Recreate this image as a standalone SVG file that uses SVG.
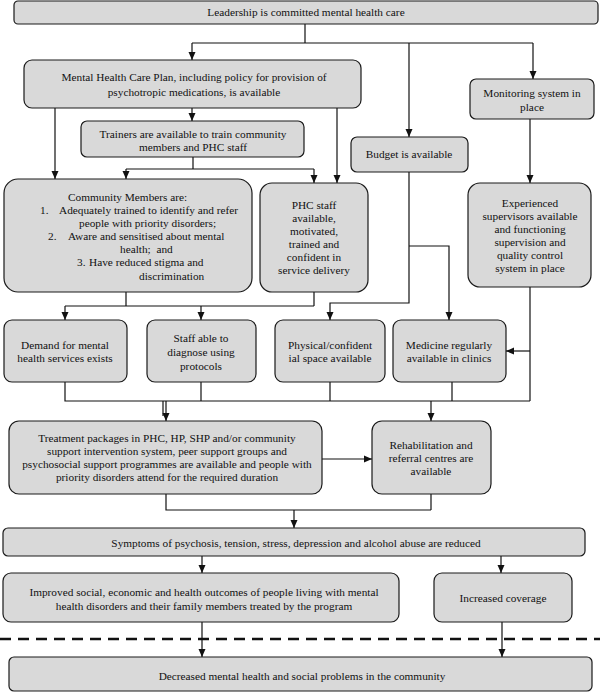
<svg xmlns="http://www.w3.org/2000/svg" width="600" height="693" viewBox="0 0 600 693">
<style>
.box{fill:#d9d9d9;stroke:#1a1a1a;stroke-width:1.2}
text{font-family:"Liberation Serif","Times New Roman",serif;font-size:11.3px;fill:#111}
.c{text-anchor:middle}
.ln{fill:none;stroke:#111;stroke-width:1.2}
.dash{fill:none;stroke:#111;stroke-width:2.5;stroke-dasharray:11 7}
</style>
<defs>
<marker id="ah" markerUnits="userSpaceOnUse" markerWidth="8" markerHeight="8" viewBox="0 0 8 8" refX="8" refY="4" orient="auto">
<path d="M0,0.5 L8,4 L0,7.5 Z" fill="#111"/>
</marker>
</defs>
<rect width="600" height="693" fill="#fff"/>
<g id="connectors">
<path class="ln" d="M305,24 V43 M192,43 H533"/>
<path class="ln" d="M192,43 V60" marker-end="url(#ah)"/>
<path class="ln" d="M409,43 V137" marker-end="url(#ah)"/>
<path class="ln" d="M533,43 V79" marker-end="url(#ah)"/>
<path class="ln" d="M192,108 V121" marker-end="url(#ah)"/>
<path class="ln" d="M55,108 V179" marker-end="url(#ah)"/>
<path class="ln" d="M337,108 V183" marker-end="url(#ah)"/>
<path class="ln" d="M193,157 V169 M126,169 H314"/>
<path class="ln" d="M126,169 V179" marker-end="url(#ah)"/>
<path class="ln" d="M314,169 V183" marker-end="url(#ah)"/>
<path class="ln" d="M530,119 V183" marker-end="url(#ah)"/>
<path class="ln" d="M126,292 V306 M65,306 H314 M314,292 V306"/>
<path class="ln" d="M65,306 V320" marker-end="url(#ah)"/>
<path class="ln" d="M201,306 V320" marker-end="url(#ah)"/>
<path class="ln" d="M409,172 V303 H330 V320" marker-end="url(#ah)"/>
<path class="ln" d="M409,246 H449 V320" marker-end="url(#ah)"/>
<path class="ln" d="M530,287 V401"/>
<path class="ln" d="M530,351 H506" marker-end="url(#ah)"/>
<path class="ln" d="M65,382 V401 H530 M201,382 V401 M330,382 V401 M452,382 V401"/>
<path class="ln" d="M163,401 V416"/>
<path class="ln" d="M166,401 V421" marker-end="url(#ah)"/>
<path class="ln" d="M431,401 V421" marker-end="url(#ah)"/>
<path class="ln" d="M322,459 H372" marker-end="url(#ah)"/>
<path class="ln" d="M166,494 V510 H431 M431,494 V510"/>
<path class="ln" d="M294,510 V528" marker-end="url(#ah)"/>
<path class="ln" d="M202,556 V573" marker-end="url(#ah)"/>
<path class="ln" d="M501,556 V573" marker-end="url(#ah)"/>
<path class="ln" d="M202,622 V657" marker-end="url(#ah)"/>
<path class="ln" d="M502,622 V657" marker-end="url(#ah)"/>
</g>
<path class="dash" d="M0,639 H600"/>
<g id="leadership"><rect class="box" x="14" y="1" width="584" height="23" rx="4"/><text class="c" x="306" y="16">Leadership is committed mental health care</text></g>
<g id="mhcp"><rect class="box" x="24" y="60" width="337" height="48" rx="8"/><text class="c" x="194" y="81">Mental Health Care Plan, including policy for provision of</text><text class="c" x="194" y="96">psychotropic medications, is available</text></g>
<g id="monitoring"><rect class="box" x="470" y="79" width="124" height="40" rx="6"/><text class="c" x="532" y="97">Monitoring system in</text><text class="c" x="532" y="111">place</text></g>
<g id="trainers"><rect class="box" x="81" y="121" width="223" height="36" rx="6"/><text class="c" x="193" y="138">Trainers are available to train community</text><text class="c" x="193" y="151">members and PHC staff</text></g>
<g id="budget"><rect class="box" x="351" y="137" width="117" height="35" rx="6"/><text class="c" x="409" y="158">Budget is available</text></g>
<g id="community"><rect class="box" x="4" y="179" width="248" height="113" rx="14"/>
<text x="68" y="201">Community Members are:</text>
<text x="40" y="214">1.</text><text x="59" y="214">Adequately trained to identify and refer</text>
<text x="79" y="227">people with priority disorders;</text>
<text x="48" y="240">2.</text><text x="68" y="240">Aware and sensitised about mental</text>
<text x="120" y="253" xml:space="preserve">health;  and</text>
<text x="77" y="266">3.</text><text x="89" y="266">Have reduced stigma and</text>
<text x="139" y="280">discrimination</text></g>
<g id="phcstaff"><rect class="box" x="260" y="183" width="108" height="109" rx="12"/><text class="c" x="314" y="209">PHC staff</text><text class="c" x="314" y="222">available,</text><text class="c" x="314" y="235">motivated,</text><text class="c" x="314" y="248">trained and</text><text class="c" x="314" y="261">confident in</text><text class="c" x="314" y="274">service delivery</text></g>
<g id="supervisors"><rect class="box" x="468" y="183" width="123" height="104" rx="12"/><text class="c" x="530" y="207">Experienced</text><text class="c" x="530" y="220">supervisors available</text><text class="c" x="530" y="233">and functioning</text><text class="c" x="530" y="246">supervision and</text><text class="c" x="530" y="259">quality control</text><text class="c" x="530" y="272">system in place</text></g>
<g id="demand"><rect class="box" x="4" y="320" width="123" height="62" rx="8"/><text class="c" x="65" y="349">Demand for mental</text><text class="c" x="65" y="362">health services exists</text></g>
<g id="staffable"><rect class="box" x="147" y="320" width="109" height="62" rx="8"/><text class="c" x="201" y="342">Staff able to</text><text class="c" x="201" y="356">diagnose using</text><text class="c" x="201" y="370">protocols</text></g>
<g id="space"><rect class="box" x="275" y="320" width="110" height="62" rx="8"/><text class="c" x="330" y="349">Physical/confident</text><text class="c" x="330" y="362">ial space available</text></g>
<g id="medicine"><rect class="box" x="393" y="320" width="113" height="62" rx="8"/><text class="c" x="449" y="349">Medicine regularly</text><text class="c" x="449" y="362">available in clinics</text></g>
<g id="treatment"><rect class="box" x="9" y="421" width="313" height="73" rx="10"/><text class="c" x="167" y="442">Treatment packages in PHC, HP, SHP and/or community</text><text class="c" x="167" y="455">support intervention system, peer support groups and</text><text class="c" x="167" y="468">psychosocial support programmes are available and people with</text><text class="c" x="167" y="481">priority disorders attend for the required duration</text></g>
<g id="rehab"><rect class="box" x="372" y="421" width="119" height="73" rx="10"/><text class="c" x="431" y="449">Rehabilitation and</text><text class="c" x="431" y="462">referral centres are</text><text class="c" x="431" y="475">available</text></g>
<g id="symptoms"><rect class="box" x="3" y="528" width="582" height="28" rx="5"/><text class="c" x="296" y="547">Symptoms of psychosis, tension, stress, depression and alcohol abuse are reduced</text></g>
<g id="improved"><rect class="box" x="3" y="573" width="396" height="49" rx="8"/><text class="c" x="204" y="596">Improved social, economic and health outcomes of people living with mental</text><text class="c" x="204" y="610">health disorders and their family members treated by the program</text></g>
<g id="coverage"><rect class="box" x="434" y="573" width="138" height="49" rx="8"/><text class="c" x="503" y="602">Increased coverage</text></g>
<g id="decreased"><rect class="box" x="9" y="657" width="583" height="34" rx="5"/><text class="c" x="302" y="680">Decreased mental health and social problems in the community</text></g>
</svg>
